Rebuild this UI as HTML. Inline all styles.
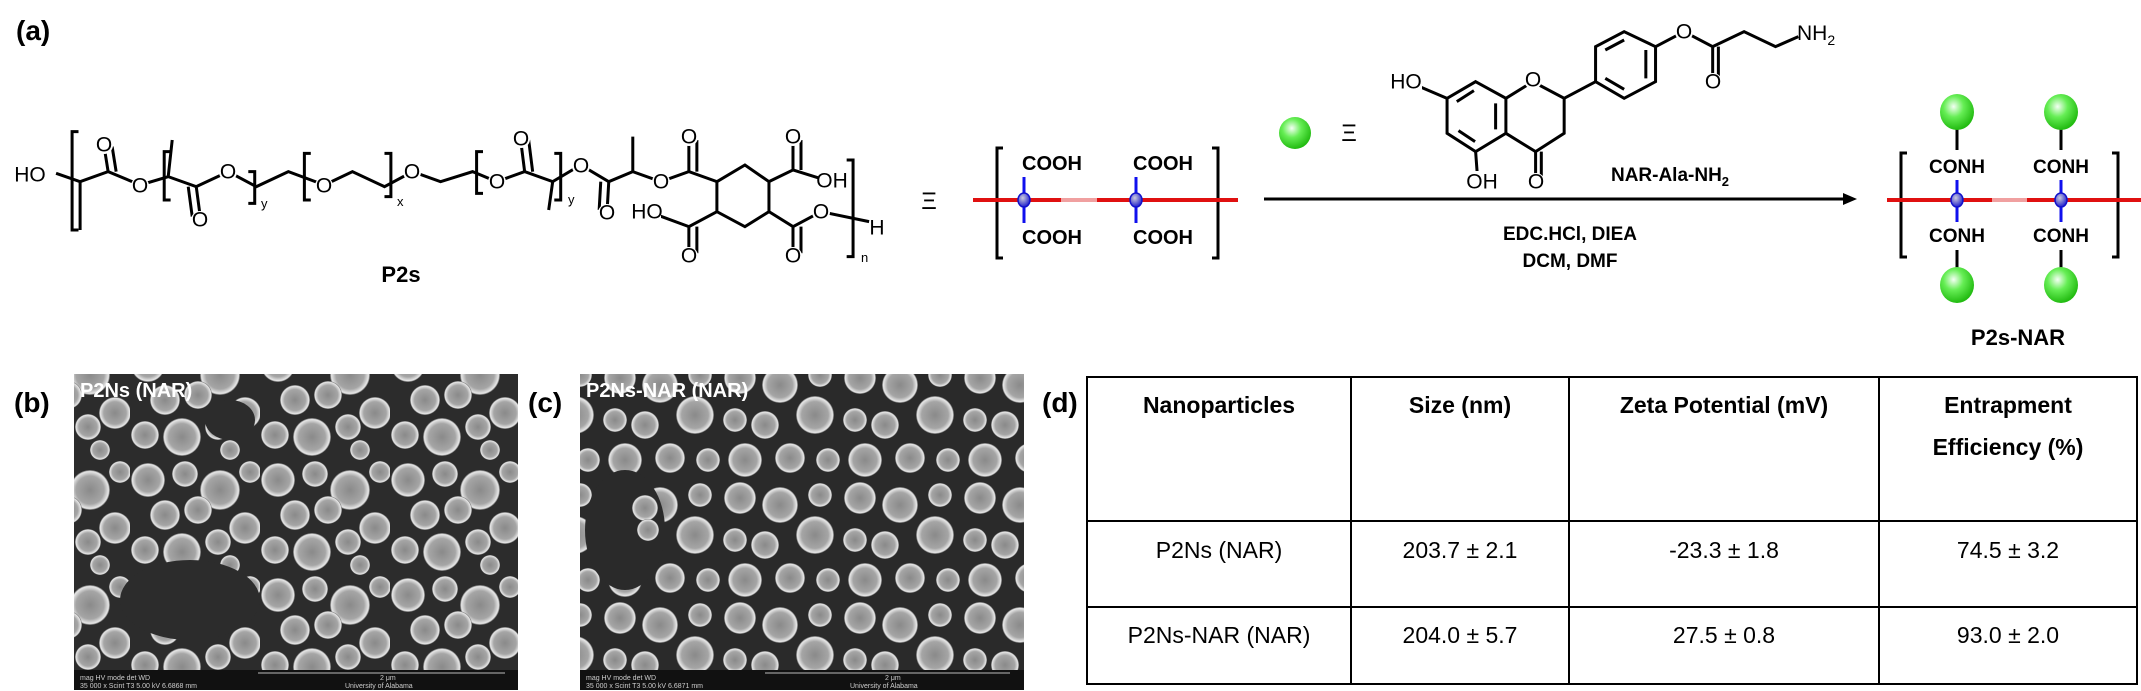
<!DOCTYPE html>
<html><head><meta charset="utf-8"><style>
html,body{margin:0;padding:0;background:#fff;}
svg{display:block;}
.t{font-family:"Liberation Sans",Arial,sans-serif;fill:#000;}
.lab{font-family:"Liberation Sans",Arial,sans-serif;font-size:21px;fill:#000;text-anchor:middle;dominant-baseline:central;}
.bg{fill:#fff;}
.b{stroke:#000;stroke-width:3;fill:none;vector-effect:non-scaling-stroke;}
</style></head><body>
<svg width="2141" height="691" viewBox="0 0 2141 691" xmlns="http://www.w3.org/2000/svg">
<defs>
<radialGradient id="ball" cx="40%" cy="35%" r="65%"><stop offset="0" stop-color="#f4fff4"/><stop offset="0.45" stop-color="#66ee55"/><stop offset="1" stop-color="#22bb11"/></radialGradient>
<radialGradient id="node" cx="40%" cy="35%" r="65%"><stop offset="0" stop-color="#ccd"/><stop offset="1" stop-color="#22c"/></radialGradient>
<radialGradient id="sph" cx="50%" cy="50%" r="50%"><stop offset="0" stop-color="#8a8a8a"/><stop offset="0.7" stop-color="#a5a5a5"/><stop offset="0.93" stop-color="#e8e8e8"/><stop offset="1" stop-color="#555"/></radialGradient>
<pattern id="semA" width="130" height="115" patternUnits="userSpaceOnUse">
<rect width="130" height="115" fill="#2c2c2c"/>
<circle cx="18" cy="20" r="17" fill="url(#sph)"/><circle cx="55" cy="14" r="13" fill="url(#sph)"/><circle cx="90" cy="30" r="20" fill="url(#sph)"/><circle cx="120" cy="12" r="11" fill="url(#sph)"/>
<circle cx="35" cy="55" r="15" fill="url(#sph)"/><circle cx="68" cy="50" r="14" fill="url(#sph)"/><circle cx="115" cy="68" r="16" fill="url(#sph)"/>
<circle cx="15" cy="90" r="14" fill="url(#sph)"/><circle cx="52" cy="92" r="19" fill="url(#sph)"/><circle cx="88" cy="82" r="13" fill="url(#sph)"/><circle cx="100" cy="105" r="10" fill="url(#sph)"/>
</pattern>
<pattern id="semB" width="120" height="120" patternUnits="userSpaceOnUse">
<rect width="120" height="120" fill="#2a2a2a"/>
<circle cx="20" cy="18" r="16" fill="url(#sph)"/><circle cx="60" cy="25" r="18" fill="url(#sph)"/><circle cx="100" cy="15" r="12" fill="url(#sph)"/>
<circle cx="15" cy="60" r="12" fill="url(#sph)"/><circle cx="45" cy="65" r="14" fill="url(#sph)"/><circle cx="95" cy="55" r="19" fill="url(#sph)"/>
<circle cx="25" cy="100" r="17" fill="url(#sph)"/><circle cx="70" cy="98" r="15" fill="url(#sph)"/><circle cx="108" cy="100" r="12" fill="url(#sph)"/>
</pattern>
</defs>

<text class="t" x="16" y="40" font-size="28" font-weight="bold">(a)</text>

<!-- P2s structure -->
<g transform="scale(0.801,0.3333)">
<polyline class="b" points="70,520 100,545 135,515 175,555 210,530 245,560 285,515 320,560 360,515 405,555 440,515 480,560 515,515 550,545 590,515 620,545 655,515 690,545 725,495 760,545 790,515 825,545 860,515 895,545"/>
<path class="b" d="M135,515 L130,440 M145,515 L140,440 M100,545 L100,690 M210,530 L215,420 M245,560 L250,650 M235,560 L240,650 M655,515 L650,420 M665,515 L660,420 M690,545 L685,630 M760,545 L758,630 M750,545 L748,630 M790,515 L790,410 M860,515 L860,420 M870,515 L870,420"/>
<polygon class="b" points="895,545 930,495 960,545 960,635 930,680 895,635"/>
<path class="b" d="M960,545 L990,510 L990,420 M1000,510 L1000,420 M990,510 L1030,540 M895,635 L860,680 L860,760 M870,680 L870,760 M860,680 L815,640 M960,635 L990,680 L990,760 M1000,680 L1000,760 M990,680 L1025,635 L1085,665"/>
<path class="b" d="M98,395 H90 V690 H98 M213,455 H205 V600 H213 M310,515 H318 V610 H310 M388,460 H380 V600 H388 M480,460 H488 V590 H480 M603,455 H595 V580 H603 M692,460 H700 V600 H692 M1057,480 H1065 V770 H1057"/>
</g>
<g class="bg">
<rect x="16" y="164" width="30" height="22"/>
<circle cx="104" cy="145" r="9"/><circle cx="140" cy="186" r="9"/><circle cx="200" cy="220" r="9"/><circle cx="228" cy="172" r="9"/>
<circle cx="324" cy="186" r="9"/><circle cx="412" cy="172" r="9"/><circle cx="497" cy="182" r="9"/><circle cx="521" cy="139" r="9"/>
<circle cx="581" cy="166" r="9"/><circle cx="607" cy="213" r="9"/><circle cx="661" cy="182" r="9"/><circle cx="689" cy="137" r="9"/>
<circle cx="793" cy="137" r="9"/><rect x="818" y="170" width="28" height="22"/><rect x="633" y="201" width="28" height="22"/>
<circle cx="689" cy="256" r="9"/><circle cx="793" cy="256" r="9"/><circle cx="821" cy="212" r="9"/><circle cx="877" cy="228" r="9"/>
</g>
<g>
<text class="lab" x="30" y="175">HO</text>
<text class="lab" x="104" y="145">O</text>
<text class="lab" x="140" y="186">O</text>
<text class="lab" x="200" y="220">O</text>
<text class="lab" x="228" y="172">O</text>
<text class="lab" x="324" y="186">O</text>
<text class="lab" x="412" y="172">O</text>
<text class="lab" x="497" y="182">O</text>
<text class="lab" x="521" y="139">O</text>
<text class="lab" x="581" y="166">O</text>
<text class="lab" x="607" y="213">O</text>
<text class="lab" x="661" y="182">O</text>
<text class="lab" x="689" y="137">O</text>
<text class="lab" x="793" y="137">O</text>
<text class="lab" x="832" y="181">OH</text>
<text class="lab" x="647" y="212">HO</text>
<text class="lab" x="689" y="256">O</text>
<text class="lab" x="793" y="256">O</text>
<text class="lab" x="821" y="212">O</text>
<text class="lab" x="877" y="228">H</text>
<text class="t" x="261" y="208" font-size="13">y</text>
<text class="t" x="397" y="206" font-size="13">x</text>
<text class="t" x="568" y="204" font-size="13">y</text>
<text class="t" x="861" y="262" font-size="13">n</text>
<text class="t" x="401" y="282" font-size="22" font-weight="bold" text-anchor="middle">P2s</text>
</g>

<text class="t" x="929" y="209" font-size="24" text-anchor="middle">Ξ</text>

<!-- P2s bracket box -->
<path d="M1003,148 H997 V258 H1003 M1212,148 H1218 V258 H1212" stroke="#000" stroke-width="3" fill="none"/>
<line x1="973" y1="200" x2="1061" y2="200" stroke="#e01010" stroke-width="4"/>
<line x1="1061" y1="200" x2="1097" y2="200" stroke="#f0a0a0" stroke-width="4"/>
<line x1="1097" y1="200" x2="1238" y2="200" stroke="#e01010" stroke-width="4"/>
<line x1="1024" y1="177" x2="1024" y2="223" stroke="#1010ee" stroke-width="3"/>
<line x1="1136" y1="177" x2="1136" y2="223" stroke="#1010ee" stroke-width="3"/>
<ellipse cx="1024" cy="200" rx="6" ry="7" fill="url(#node)" stroke="#11c" stroke-width="1.5"/>
<ellipse cx="1136" cy="200" rx="6" ry="7" fill="url(#node)" stroke="#11c" stroke-width="1.5"/>
<text class="t" x="1052" y="170" font-size="20" font-weight="bold" text-anchor="middle">COOH</text>
<text class="t" x="1163" y="170" font-size="20" font-weight="bold" text-anchor="middle">COOH</text>
<text class="t" x="1052" y="244" font-size="20" font-weight="bold" text-anchor="middle">COOH</text>
<text class="t" x="1163" y="244" font-size="20" font-weight="bold" text-anchor="middle">COOH</text>

<ellipse cx="1295" cy="133" rx="16" ry="16" fill="url(#ball)"/>
<text class="t" x="1349" y="141" font-size="24" text-anchor="middle">Ξ</text>

<!-- NAR-Ala-NH2 -->
<g transform="translate(1250,0) scale(0.5712,0.3333)">
<polygon class="b" points="395,245 448,295 448,400 395,455 345,400 345,295"/>
<path class="b" d="M392,272 L362,305 M430,310 L430,388 M365,392 L394,425"/>
<polyline class="b" points="448,295 495,245 550,295 550,400 500,455 448,400"/>
<path class="b" d="M500,455 L500,535 M510,455 L510,535 M395,455 L398,525 M345,295 L300,262"/>
<path class="b" d="M550,295 L605,245"/>
<polygon class="b" points="605,245 605,140 655,95 710,140 710,245 655,295"/>
<path class="b" d="M622,150 L655,120 M693,150 L693,235 M622,235 L655,268"/>
<path class="b" d="M710,140 L760,95 L810,140 L810,240 M820,140 L820,240 M810,140 L865,95 L920,140 L960,110"/>
</g>
<g class="bg">
<rect x="1392" y="71" width="30" height="22"/><circle cx="1533" cy="80" r="9"/><rect x="1468" y="171" width="28" height="22"/>
<circle cx="1536" cy="182" r="9"/><circle cx="1684" cy="32" r="9"/><circle cx="1713" cy="82" r="9"/>
</g>
<text class="lab" x="1406" y="82">HO</text>
<text class="lab" x="1533" y="80">O</text>
<text class="lab" x="1482" y="182">OH</text>
<text class="lab" x="1536" y="182">O</text>
<text class="lab" x="1684" y="32">O</text>
<text class="lab" x="1713" y="82">O</text>
<text class="t" x="1797" y="40" font-size="21">NH<tspan font-size="14" dy="5">2</tspan></text>
<text class="t" x="1670" y="181" font-size="19" font-weight="bold" text-anchor="middle">NAR-Ala-NH<tspan font-size="13" dy="5">2</tspan></text>

<line x1="1264" y1="199" x2="1845" y2="199" stroke="#000" stroke-width="3"/>
<polygon points="1857,199 1843,193 1843,205" fill="#000"/>
<text class="t" x="1570" y="240" font-size="19" font-weight="bold" text-anchor="middle">EDC.HCl, DIEA</text>
<text class="t" x="1570" y="267" font-size="19" font-weight="bold" text-anchor="middle">DCM, DMF</text>

<!-- P2s-NAR -->
<path d="M1907,153 H1901 V257 H1907 M2112,153 H2118 V257 H2112" stroke="#000" stroke-width="3" fill="none"/>
<line x1="1887" y1="200" x2="1992" y2="200" stroke="#e01010" stroke-width="4"/>
<line x1="1992" y1="200" x2="2027" y2="200" stroke="#f0a0a0" stroke-width="4"/>
<line x1="2027" y1="200" x2="2141" y2="200" stroke="#e01010" stroke-width="4"/>
<line x1="1957" y1="180" x2="1957" y2="222" stroke="#1010ee" stroke-width="3"/>
<line x1="2061" y1="180" x2="2061" y2="222" stroke="#1010ee" stroke-width="3"/>
<ellipse cx="1957" cy="200" rx="6" ry="7" fill="url(#node)" stroke="#11c" stroke-width="1.5"/>
<ellipse cx="2061" cy="200" rx="6" ry="7" fill="url(#node)" stroke="#11c" stroke-width="1.5"/>
<line x1="1957" y1="128" x2="1957" y2="150" stroke="#000" stroke-width="3"/>
<line x1="2061" y1="128" x2="2061" y2="150" stroke="#000" stroke-width="3"/>
<line x1="1957" y1="250" x2="1957" y2="270" stroke="#000" stroke-width="3"/>
<line x1="2061" y1="250" x2="2061" y2="270" stroke="#000" stroke-width="3"/>
<text class="t" x="1957" y="173" font-size="19" font-weight="bold" text-anchor="middle">CONH</text>
<text class="t" x="2061" y="173" font-size="19" font-weight="bold" text-anchor="middle">CONH</text>
<text class="t" x="1957" y="242" font-size="19" font-weight="bold" text-anchor="middle">CONH</text>
<text class="t" x="2061" y="242" font-size="19" font-weight="bold" text-anchor="middle">CONH</text>
<ellipse cx="1957" cy="112" rx="17" ry="18" fill="url(#ball)"/>
<ellipse cx="2061" cy="112" rx="17" ry="18" fill="url(#ball)"/>
<ellipse cx="1957" cy="285" rx="17" ry="18" fill="url(#ball)"/>
<ellipse cx="2061" cy="285" rx="17" ry="18" fill="url(#ball)"/>
<text class="t" x="2018" y="345" font-size="22" font-weight="bold" text-anchor="middle">P2s-NAR</text>

<!-- (b) SEM -->
<text class="t" x="14" y="412" font-size="28" font-weight="bold">(b)</text>
<rect x="74" y="374" width="444" height="296" fill="url(#semA)"/>
<ellipse cx="190" cy="600" rx="70" ry="40" fill="#2c2c2c"/>
<ellipse cx="230" cy="420" rx="25" ry="20" fill="#2c2c2c"/>
<rect x="74" y="670" width="444" height="20" fill="#111"/>
<text x="80" y="680" font-size="7" fill="#ccc" font-family="Liberation Sans,sans-serif">mag   HV mode det   WD</text>
<text x="80" y="688" font-size="7" fill="#ccc" font-family="Liberation Sans,sans-serif">35 000 x Scint T3 5.00 kV 6.6868 mm</text>
<line x1="258" y1="673" x2="505" y2="673" stroke="#bbb" stroke-width="1"/>
<text x="380" y="680" font-size="7" fill="#ccc" font-family="Liberation Sans,sans-serif">2 μm</text>
<text x="345" y="688" font-size="7" fill="#ccc" font-family="Liberation Sans,sans-serif">University of Alabama</text>
<text x="80" y="397" font-size="20" font-weight="bold" fill="#fff" font-family="Liberation Sans,sans-serif">P2Ns (NAR)</text>

<!-- (c) SEM -->
<text class="t" x="528" y="412" font-size="28" font-weight="bold">(c)</text>
<rect x="580" y="374" width="444" height="296" fill="url(#semB)"/>
<ellipse cx="625" cy="530" rx="40" ry="60" fill="#2a2a2a"/>
<circle cx="645" cy="508" r="13" fill="url(#sph)"/>
<circle cx="648" cy="530" r="11" fill="url(#sph)"/>
<rect x="580" y="670" width="444" height="20" fill="#111"/>
<text x="586" y="680" font-size="7" fill="#ccc" font-family="Liberation Sans,sans-serif">mag   HV mode det   WD</text>
<text x="586" y="688" font-size="7" fill="#ccc" font-family="Liberation Sans,sans-serif">35 000 x Scint T3 5.00 kV 6.6871 mm</text>
<line x1="765" y1="673" x2="1010" y2="673" stroke="#bbb" stroke-width="1"/>
<text x="885" y="680" font-size="7" fill="#ccc" font-family="Liberation Sans,sans-serif">2 μm</text>
<text x="850" y="688" font-size="7" fill="#ccc" font-family="Liberation Sans,sans-serif">University of Alabama</text>
<text x="586" y="397" font-size="20" font-weight="bold" fill="#fff" font-family="Liberation Sans,sans-serif">P2Ns-NAR (NAR)</text>

<!-- (d) table -->
<text class="t" x="1042" y="412" font-size="28" font-weight="bold">(d)</text>
<g stroke="#000" stroke-width="2" fill="none">
<rect x="1087" y="377" width="1050" height="307"/>
<line x1="1351" y1="377" x2="1351" y2="684"/>
<line x1="1569" y1="377" x2="1569" y2="684"/>
<line x1="1879" y1="377" x2="1879" y2="684"/>
<line x1="1087" y1="521" x2="2137" y2="521"/>
<line x1="1087" y1="607" x2="2137" y2="607"/>
</g>
<g class="t" font-size="23" text-anchor="middle">
<text x="1219" y="413" font-weight="bold">Nanoparticles</text>
<text x="1460" y="413" font-weight="bold">Size (nm)</text>
<text x="1724" y="413" font-weight="bold">Zeta Potential (mV)</text>
<text x="2008" y="413" font-weight="bold">Entrapment</text>
<text x="2008" y="455" font-weight="bold">Efficiency (%)</text>
<text x="1219" y="558">P2Ns (NAR)</text>
<text x="1460" y="558">203.7 ± 2.1</text>
<text x="1724" y="558">-23.3 ± 1.8</text>
<text x="2008" y="558">74.5 ± 3.2</text>
<text x="1219" y="643">P2Ns-NAR (NAR)</text>
<text x="1460" y="643">204.0 ± 5.7</text>
<text x="1724" y="643">27.5 ± 0.8</text>
<text x="2008" y="643">93.0 ± 2.0</text>
</g>
</svg>
</body></html>
